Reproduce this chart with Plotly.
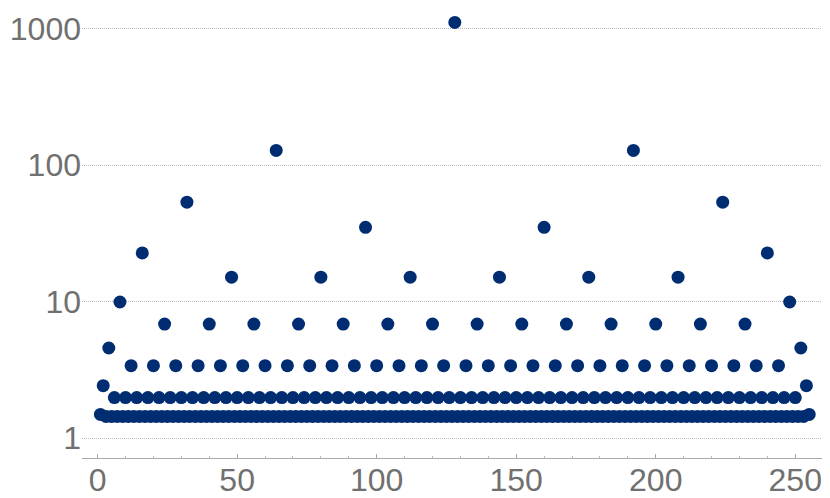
import plotly.graph_objects as go

# index 1..255
x_vals = list(range(1, 256))

# values, 16 per row (x = 1..16, 17..32, ...)
y_vals = [
    1.49, 2.42, 1.44, 4.57, 1.44, 1.98, 1.44, 9.93, 1.44, 1.98, 1.44, 3.39, 1.44, 1.98, 1.44, 22.7,
    1.44, 1.98, 1.44, 3.39, 1.44, 1.98, 1.44, 6.84, 1.44, 1.98, 1.44, 3.39, 1.44, 1.98, 1.44, 53.5,
    1.44, 1.98, 1.44, 3.39, 1.44, 1.98, 1.44, 6.84, 1.44, 1.98, 1.44, 3.39, 1.44, 1.98, 1.44, 15.1,
    1.44, 1.98, 1.44, 3.39, 1.44, 1.98, 1.44, 6.84, 1.44, 1.98, 1.44, 3.39, 1.44, 1.98, 1.44, 128.0,
    1.44, 1.98, 1.44, 3.39, 1.44, 1.98, 1.44, 6.84, 1.44, 1.98, 1.44, 3.39, 1.44, 1.98, 1.44, 15.1,
    1.44, 1.98, 1.44, 3.39, 1.44, 1.98, 1.44, 6.84, 1.44, 1.98, 1.44, 3.39, 1.44, 1.98, 1.44, 35.0,
    1.44, 1.98, 1.44, 3.39, 1.44, 1.98, 1.44, 6.84, 1.44, 1.98, 1.44, 3.39, 1.44, 1.98, 1.44, 15.1,
    1.44, 1.98, 1.44, 3.39, 1.44, 1.98, 1.44, 6.84, 1.44, 1.98, 1.44, 3.39, 1.44, 1.98, 1.44, 1110.0,
    1.44, 1.98, 1.44, 3.39, 1.44, 1.98, 1.44, 6.84, 1.44, 1.98, 1.44, 3.39, 1.44, 1.98, 1.44, 15.1,
    1.44, 1.98, 1.44, 3.39, 1.44, 1.98, 1.44, 6.84, 1.44, 1.98, 1.44, 3.39, 1.44, 1.98, 1.44, 35.0,
    1.44, 1.98, 1.44, 3.39, 1.44, 1.98, 1.44, 6.84, 1.44, 1.98, 1.44, 3.39, 1.44, 1.98, 1.44, 15.1,
    1.44, 1.98, 1.44, 3.39, 1.44, 1.98, 1.44, 6.84, 1.44, 1.98, 1.44, 3.39, 1.44, 1.98, 1.44, 128.0,
    1.44, 1.98, 1.44, 3.39, 1.44, 1.98, 1.44, 6.84, 1.44, 1.98, 1.44, 3.39, 1.44, 1.98, 1.44, 15.1,
    1.44, 1.98, 1.44, 3.39, 1.44, 1.98, 1.44, 6.84, 1.44, 1.98, 1.44, 3.39, 1.44, 1.98, 1.44, 53.5,
    1.44, 1.98, 1.44, 3.39, 1.44, 1.98, 1.44, 6.84, 1.44, 1.98, 1.44, 3.39, 1.44, 1.98, 1.44, 22.7,
    1.44, 1.98, 1.44, 3.39, 1.44, 1.98, 1.44, 9.93, 1.44, 1.98, 1.44, 4.57, 1.44, 2.42, 1.49,
]

x_ticks = [0, 50, 100, 150, 200, 250]
y_ticks = [1, 10, 100, 1000]
y_tick_text = ["1", "10", "100", "1000"]

fig = go.Figure()

fig.add_trace(
    go.Scatter(x=x_vals,
               y=y_vals,
               mode='markers',
               marker=dict(color='#002D72', size=13, line=dict(width=0)),
               showlegend=False)
)

# page body has an 8px margin, so the figure is 8px smaller each way
fig.update_layout(
    width=822,
    height=490,
    margin=dict(l=74, r=6, t=2, b=40),
    paper_bgcolor='white',
    plot_bgcolor='white',
    font=dict(family='Liberation Sans, Arial, sans-serif', size=32, color='#707070'),
    xaxis=dict(
        range=[-5.6, 260.3],
        tickvals=x_ticks,
        ticks='inside',
        ticklen=4,
        tickcolor='#aaaaaa',
        showline=True,
        linecolor='#aaaaaa',
        linewidth=1,
        showgrid=False,
        zeroline=False,
        automargin=False,
        ticklabelstandoff=-6,
        minor=dict(dtick=10, tick0=0, ticks='inside', ticklen=2, tickcolor='#bbbbbb', showgrid=False),
    ),
    yaxis=dict(
        type='log',
        range=[-0.146, 3.136],
        tickvals=y_ticks,
        ticktext=y_tick_text,
        showgrid=True,
        gridcolor='#bdbdbd',
        griddash='1px,1px',
        gridwidth=1,
        zeroline=False,
        showline=False,
        automargin=False,
        ticks='',
    ),
)

fig.write_html("out.html")
